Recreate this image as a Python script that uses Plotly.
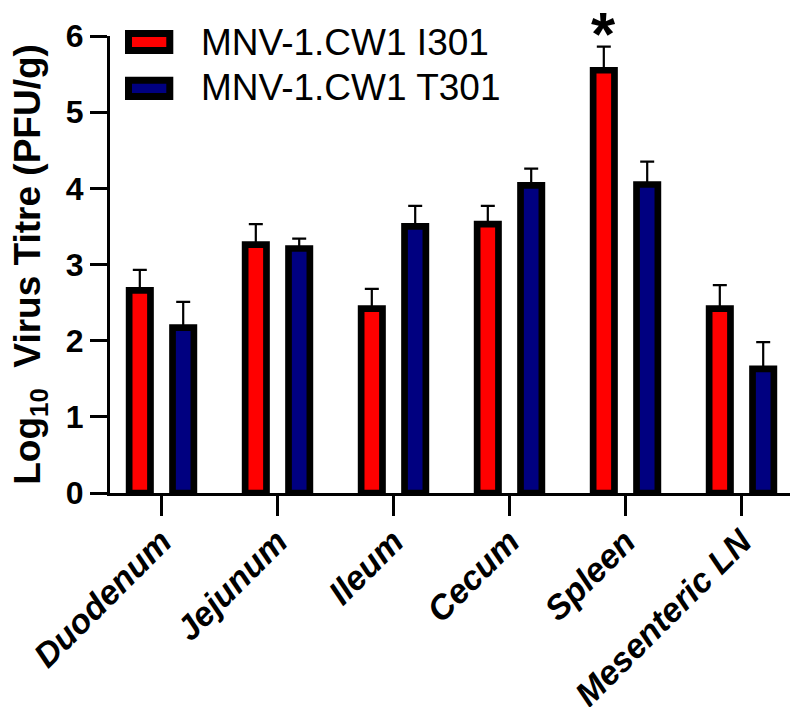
import plotly.graph_objects as go

categories = ["Duodenum", "Jejunum", "Ileum", "Cecum", "Spleen", "Mesenteric LN"]
series_names = ["MNV-1.CW1 I301", "MNV-1.CW1 T301"]
i301_mean = [2.66, 3.26, 2.42, 3.53, 5.55, 2.42]
i301_sem = [0.27, 0.27, 0.26, 0.24, 0.31, 0.31]
t301_mean = [2.17, 3.21, 3.50, 4.04, 4.05, 1.63]
t301_sem = [0.34, 0.13, 0.27, 0.22, 0.30, 0.35]
y_ticks = [0, 1, 2, 3, 4, 5, 6]
colors = ["#FF0000", "#000080"]

FONT = "Arial, Liberation Sans, Helvetica, sans-serif"
W, H = 790, 707
L, R, T, B = 110, 0, 36, 214
PW, PH = W - L - R, H - T - B

def px2paper_x(x):
    return (x - L) / PW

def px2paper_y(y):
    return (H - B - y) / PH

fig = go.Figure()
for name, mean, sem, col in [(series_names[0], i301_mean, i301_sem, colors[0]),
                             (series_names[1], t301_mean, t301_sem, colors[1])]:
    fig.add_trace(go.Bar(
        name=name, x=categories, y=mean,
        marker=dict(color=col, line=dict(color="black", width=6.7)),
        error_y=dict(type="data", array=sem, arrayminus=[0] * len(sem), symmetric=False,
                     color="black", thickness=2.2, width=7),
        showlegend=False,
    ))

fig.update_layout(
    width=W, height=H,
    margin=dict(l=L, r=R, t=T, b=B, autoexpand=False),
    paper_bgcolor="white", plot_bgcolor="white",
    barmode="group", bargap=0.252, bargroupgap=0.508,
    font=dict(family=FONT, color="black"),
)
fig.update_xaxes(
    range=[-0.444, -0.444 + PW / 116.0],
    showline=True, linecolor="black", linewidth=3.3,
    ticks="outside", ticklen=20, tickwidth=3.3, tickcolor="black",
    tickangle=-45, ticklabelstandoff=-8,
    tickfont=dict(family=FONT, size=34, weight="bold", style="italic", color="black"),
    showgrid=False, zeroline=False, automargin=False,
)
fig.update_yaxes(
    range=[0, 6], tickvals=y_ticks,
    showline=True, linecolor="black", linewidth=3.3,
    ticks="outside", ticklen=17, tickwidth=3.3, tickcolor="black",
    tickfont=dict(family=FONT, size=32, weight="bold", color="black"),
    title=dict(text="Log<sub>10</sub>  Virus Titre (PFU/g)",
               font=dict(family=FONT, size=37, weight="bold", color="black"), standoff=14),
    showgrid=False, zeroline=False, automargin=False,
)

# Manual legend (large swatches like the original)
rows_y = [(33.5, 50.5), (80.2, 96.5)]
text_y = [42, 88]
for (y0, y1), ty, col, name in zip(rows_y, text_y, colors, series_names):
    fig.add_shape(type="rect", xref="paper", yref="paper",
                  x0=px2paper_x(128.5), x1=px2paper_x(169.8),
                  y0=px2paper_y(y1), y1=px2paper_y(y0),
                  fillcolor=col, line=dict(color="black", width=7))
    fig.add_annotation(xref="paper", yref="paper", x=px2paper_x(199), y=px2paper_y(ty),
                       xanchor="left", yanchor="middle", showarrow=False, text=name,
                       font=dict(family=FONT, size=37, color="black"))

# Significance marker above Spleen I301
fig.add_annotation(x="Spleen", y=px2paper_y(33), xref="x", yref="paper", xshift=-21.7,
                   text="<b>*</b>", showarrow=False, yanchor="middle",
                   font=dict(family=FONT, size=62, color="black"))

fig.write_html("out.html", post_script="document.body.style.margin='0';",
               config={"displayModeBar": False})
